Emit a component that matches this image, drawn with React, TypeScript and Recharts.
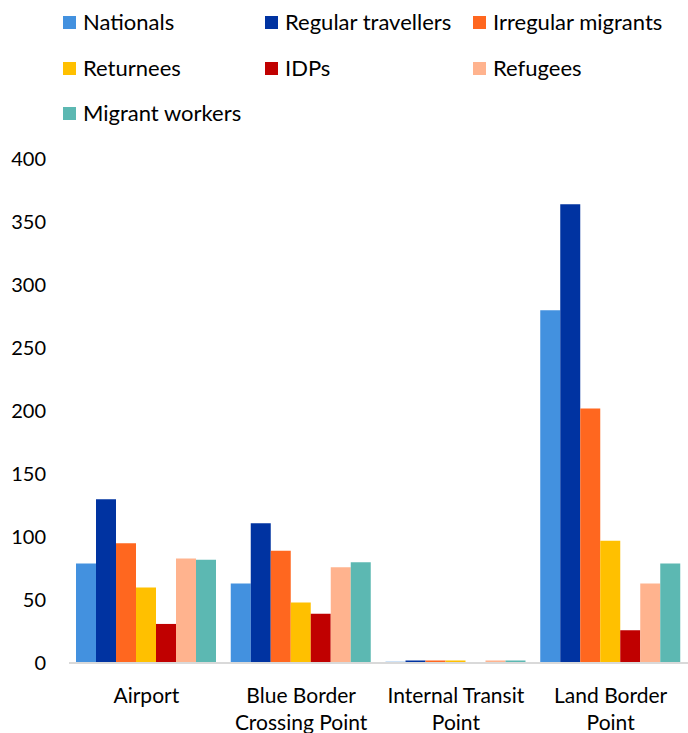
import React from "react";
import { BarChart, Bar, XAxis, YAxis, Legend } from "recharts";

const categories = [
  "Airport",
  "Blue Border Crossing Point",
  "Internal Transit Point",
  "Land Border Point",
];
const seriesNames = [
  "Nationals",
  "Regular travellers",
  "Irregular migrants",
  "Returnees",
  "IDPs",
  "Refugees",
  "Migrant workers",
];
const nationals = [79, 63, 1, 280];
const regularTravellers = [130, 111, 2, 364];
const irregularMigrants = [95, 89, 2, 202];
const returnees = [60, 48, 2, 97];
const idps = [31, 39, 0, 26];
const refugees = [83, 76, 2, 63];
const migrantWorkers = [82, 80, 2, 79];
const yTicks = [0, 50, 100, 150, 200, 250, 300, 350, 400];

const seriesValues = [
  nationals,
  regularTravellers,
  irregularMigrants,
  returnees,
  idps,
  refugees,
  migrantWorkers,
];
const colors = [
  "#4391df",
  "#0033a1",
  "#ff671f",
  "#ffc000",
  "#c00000",
  "#ffb38e",
  "#5cb8b2",
];

const data = categories.map((c, i) => {
  const row: Record<string, string | number> = { category: c };
  seriesNames.forEach((s, k) => {
    row[s] = seriesValues[k][i];
  });
  return row;
});

const FONT = "Lato, 'Noto Sans', sans-serif";

function wrap(text: string, max: number): string[] {
  const words = text.split(" ");
  const lines: string[] = [];
  let cur = "";
  words.forEach((w) => {
    const next = cur ? cur + " " + w : w;
    if (next.length > max && cur) {
      lines.push(cur);
      cur = w;
    } else {
      cur = next;
    }
  });
  if (cur) lines.push(cur);
  return lines;
}

const XTick = (props: any) => {
  const { x, y, payload } = props;
  const lines = wrap(String(payload.value), 16);
  return (
    <g transform={`translate(${x},${y})`}>
      {lines.map((l, i) => (
        <text
          key={i}
          x={0}
          y={0}
          dy={32 + i * 27}
          textAnchor="middle"
          fill="#000"
          fontSize={21}
          fontFamily={FONT}
        >
          {l}
        </text>
      ))}
    </g>
  );
};

const LegendContent = () => {
  const colX = [63, 265, 473];
  const rowY = [22, 68, 113];
  return (
    <div style={{ position: "relative", width: 688, height: 135 }}>
      {seriesNames.map((s, i) => {
        const col = i % 3;
        const row = Math.floor(i / 3);
        return (
          <div
            key={s}
            style={{
              position: "absolute",
              left: colX[col],
              top: rowY[row] - 14,
              height: 28,
              display: "flex",
              alignItems: "center",
              whiteSpace: "nowrap",
              fontFamily: FONT,
              fontSize: 22,
              lineHeight: "28px",
              color: "#000",
            }}
          >
            <span
              style={{
                display: "inline-block",
                width: 13,
                height: 13,
                background: colors[i],
                marginRight: 7,
              }}
            />
            {s}
          </div>
        );
      })}
    </div>
  );
};

export default function App() {
  return (
    <div style={{ position: "absolute", left: 0, top: 0, background: "#fff" }}>
      <BarChart
        width={688}
        height={733}
        data={data}
        margin={{ top: 159, right: 0, bottom: 0, left: 0 }}
        barCategoryGap={7}
        barGap={0}
      >
        <Legend
          layout="horizontal"
          verticalAlign="middle"
          align="center"
          wrapperStyle={{ top: 0, left: 0, width: 688 }}
          content={<LegendContent />}
        />
        <XAxis
          dataKey="category"
          axisLine={{ stroke: "#d9d9d9", strokeWidth: 2 }}
          tickLine={false}
          height={70}
          interval={0}
          tick={<XTick />}
        />
        <YAxis
          width={69}
          domain={[0, 400]}
          ticks={yTicks}
          axisLine={false}
          tickLine={false}
          tickMargin={17}
          tick={{ fill: "#000", fontSize: 20, fontFamily: FONT }}
        />
        {seriesNames.map((s, i) => (
          <Bar key={s} dataKey={s} fill={colors[i]} isAnimationActive={false} />
        ))}
      </BarChart>
    </div>
  );
}
